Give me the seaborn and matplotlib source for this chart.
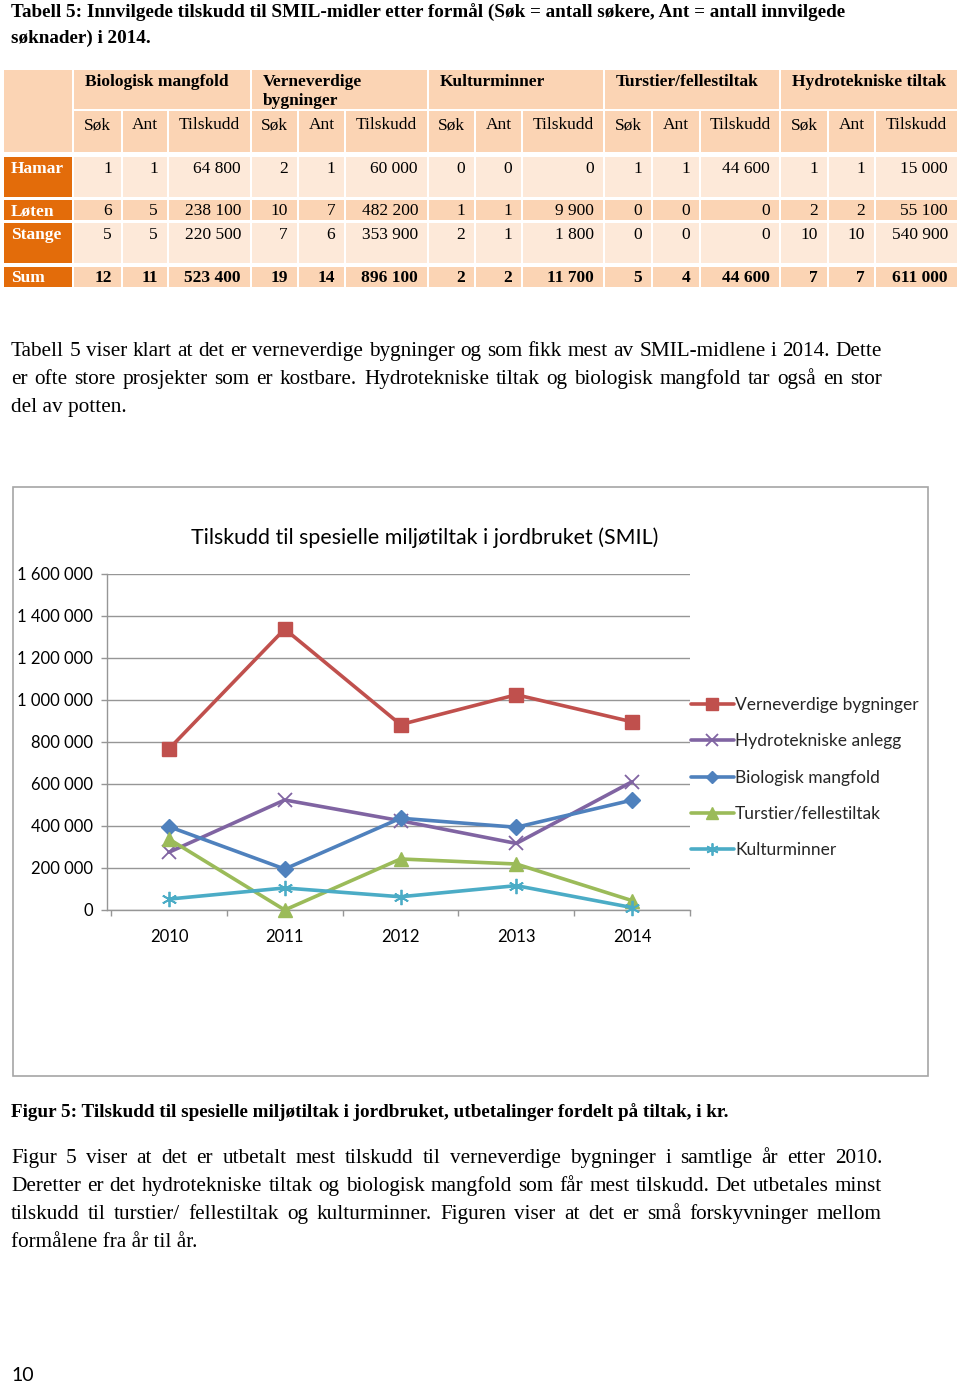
import numpy as np
import pandas as pd
import matplotlib
matplotlib.use("Agg")
import matplotlib.pyplot as plt
import seaborn as sns
from matplotlib.patches import Rectangle
from matplotlib.lines import Line2D

# ---------------- data ----------------
years = [2010, 2011, 2012, 2013, 2014]
series_names = ["Verneverdige bygninger", "Hydrotekniske anlegg", "Biologisk mangfold",
                "Turstier/fellestiltak", "Kulturminner"]
verneverdige = [767000, 1338000, 883000, 1025000, 896100]
hydrotekniske = [275000, 524000, 425000, 317000, 611000]
biologisk = [397000, 195000, 437000, 394000, 523400]
turstier = [338000, 0, 243000, 219000, 44600]
kulturminner = [52000, 105000, 63000, 116000, 11700]
y_ticks = [0, 200000, 400000, 600000, 800000, 1000000, 1200000, 1400000, 1600000]
chart_title = "Tilskudd til spesielle miljøtiltak i jordbruket (SMIL)"

group_names = ["Biologisk mangfold", "Verneverdige\nbygninger", "Kulturminner",
               "Turstier/fellestiltak", "Hydrotekniske tiltak"]
sub_headers = ["Søk", "Ant", "Tilskudd"]
row_labels = ["Hamar", "Løten", "Stange", "Sum"]
hamar = [1, 1, 64800, 2, 1, 60000, 0, 0, 0, 1, 1, 44600, 1, 1, 15000]
loten = [6, 5, 238100, 10, 7, 482200, 1, 1, 9900, 0, 0, 0, 2, 2, 55100]
stange = [5, 5, 220500, 7, 6, 353900, 2, 1, 1800, 0, 0, 0, 10, 10, 540900]
sums = [12, 11, 523400, 19, 14, 896100, 2, 2, 11700, 5, 4, 44600, 7, 7, 611000]

table_caption = ["Tabell 5: Innvilgede tilskudd til SMIL-midler etter formål (Søk = antall søkere, Ant = antall innvilgede",
                 "søknader) i 2014."]
para1 = ["Tabell 5 viser klart at det er verneverdige bygninger og som fikk mest av SMIL-midlene i 2014. Dette",
         "er ofte store prosjekter som er kostbare. Hydrotekniske tiltak og biologisk mangfold tar også en stor",
         "del av potten."]
fig_caption = "Figur 5: Tilskudd til spesielle miljøtiltak i jordbruket, utbetalinger fordelt på tiltak, i kr."
para2 = ["Figur 5 viser at det er utbetalt mest tilskudd til verneverdige bygninger i samtlige år etter 2010.",
         "Deretter er det hydrotekniske tiltak og biologisk mangfold som får mest tilskudd. Det utbetales minst",
         "tilskudd til turstier/ fellestiltak og kulturminner. Figuren viser at det er små forskyvninger mellom",
         "formålene fra år til år."]
page_number = "10"

# ---------------- setup ----------------
W, H = 960, 1383
sns.set_theme(style="white")
plt.rcParams["font.family"] = ["DejaVu Sans"]
SERIF = ["Liberation Serif", "DejaVu Serif"]
SANS = ["Lato", "DejaVu Sans"]

fig = plt.figure(figsize=(W / 100, H / 100), dpi=100)
page = fig.add_axes([0, 0, 1, 1])
page.set_xlim(0, W)
page.set_ylim(H, 0)
page.axis("off")
renderer = fig.canvas.get_renderer()


def fmt(v):
    return f"{v:,}".replace(",", " ")


def draw_lines(lines, y0, step, x0, x1, size, weight="normal", justify=True):
    for i, line in enumerate(lines):
        y = y0 + i * step
        last = i == len(lines) - 1
        if last or not justify:
            page.text(x0, y, line, ha="left", va="baseline", fontsize=size,
                      fontweight=weight, family=SERIF, color="black")
            continue
        words = line.split(" ")
        objs = [page.text(0, y, w, ha="left", va="baseline", fontsize=size,
                          fontweight=weight, family=SERIF, color="black") for w in words]
        widths = [o.get_window_extent(renderer).width for o in objs]
        gap = (x1 - x0 - sum(widths)) / (len(words) - 1)
        x = x0
        for o, wd in zip(objs, widths):
            o.set_x(x)
            x += wd + gap


# ---------------- captions & paragraphs ----------------
draw_lines(table_caption, 18, 25, 11, 852, 13.8, weight="bold", justify=False)
draw_lines(para1, 356, 28, 11, 882, 15.3)
draw_lines([fig_caption], 1117, 28, 11, 733, 13.8, weight="bold", justify=False)
draw_lines(para2, 1163, 28, 11, 882, 15.3)
page.text(11, 1381, page_number, ha="left", va="baseline", fontsize=14, family=SANS, color="black")

# ---------------- table ----------------
DARK = "#E36C0A"
MED = "#FBD4B4"
LIGHT = "#FDE9D9"
col_edges = [3, 73, 122, 168, 251, 298, 345, 428, 475, 522, 604, 652, 700, 780, 828, 875, 958]
hdr_top, hdr_mid, hdr_bot = 69, 110, 153
row_edges = [(156, 198), (199, 221), (222, 264), (266, 288)]
row_text_y = [169, 211, 235, 278]
row_fill = [LIGHT, MED, LIGHT, MED]
TS = 12.5


def cell(x0, y0, x1, y1, color):
    page.add_patch(Rectangle((x0 + 1, y0 + 1), x1 - x0 - 2, y1 - y0 - 2,
                             facecolor=color, edgecolor="none", zorder=1))


# header
cell(col_edges[0], hdr_top, col_edges[1], hdr_bot, MED)
for g, name in enumerate(group_names):
    gx0 = col_edges[1 + 3 * g]
    gx1 = col_edges[4 + 3 * g]
    cell(gx0, hdr_top, gx1, hdr_mid, MED)
    for li, part in enumerate(name.split("\n")):
        page.text(gx0 + 12, 82 + 19 * li, part, ha="left", va="center", fontsize=TS,
                  fontweight="bold", family=SERIF, color="black", zorder=3)
    for s, sub in enumerate(sub_headers):
        sx0 = col_edges[1 + 3 * g + s]
        sx1 = col_edges[2 + 3 * g + s]
        cell(sx0, hdr_mid, sx1, hdr_bot, MED)
        page.text((sx0 + sx1) / 2, 125, sub, ha="center", va="center", fontsize=TS,
                  family=SERIF, color="black", zorder=3)

# body
for r, (label, values) in enumerate(zip(row_labels, [hamar, loten, stange, sums])):
    y0, y1 = row_edges[r]
    bold = label == "Sum"
    cell(col_edges[0], y0, col_edges[1], y1, DARK)
    page.text(11, row_text_y[r], label, ha="left", va="center", fontsize=TS,
              fontweight="bold", family=SERIF, color="white", zorder=3)
    for c, v in enumerate(values):
        cx0 = col_edges[1 + c]
        cx1 = col_edges[2 + c]
        cell(cx0, y0, cx1, y1, row_fill[r])
        page.text(cx1 - 10, row_text_y[r], fmt(v), ha="right", va="center", fontsize=TS,
                  fontweight="bold" if bold else "normal", family=SERIF, color="black", zorder=3)

# ---------------- chart ----------------
page.add_patch(Rectangle((13, 487), 915, 589, facecolor="white", edgecolor="#A6A6A6",
                         linewidth=1.2, zorder=0))
page.text(425, 538, chart_title, ha="center", va="center", fontsize=15.4, family=SANS, color="black")

ax = fig.add_axes([107 / W, 1 - 910 / H, (690 - 107) / W, (910 - 574) / H])
ax.patch.set_alpha(0)

df = pd.DataFrame({
    "idx": list(range(len(years))) * 5,
    "value": verneverdige + hydrotekniske + biologisk + turstier + kulturminner,
    "series": np.repeat(series_names, len(years)),
})
colors = ["#C0504D", "#8064A2", "#4F81BD", "#9BBB59", "#4BACC6"]
markers = ["s", "x", "D", "^", (6, 2, 0)]
msizes = [10.5, 10, 8, 10, 11]
mews = [1, 1.3, 1, 1, 1.3]

handles = []
for name, col, mk, ms, mew in zip(series_names, colors, markers, msizes, mews):
    sub = df[df["series"] == name]
    sns.lineplot(data=sub, x="idx", y="value", ax=ax, color=col, marker=mk, markersize=ms,
                 markeredgecolor=col, markerfacecolor=col, markeredgewidth=mew,
                 linewidth=2.6, errorbar=None, legend=False, clip_on=False, zorder=3)
    handles.append(Line2D([], [], color=col, marker=mk, markersize=ms * 0.8,
                          markeredgecolor=col, markerfacecolor=col, markeredgewidth=mew,
                          linewidth=2.6))

ax.set_xlim(-0.535, len(years) - 0.5)
ax.set_ylim(0, 1600000)
ax.set_yticks(y_ticks)
ax.set_yticklabels([fmt(v) for v in y_ticks], fontsize=12, family=SANS)
ax.set_xticks(range(len(years)))
ax.set_xticklabels([str(y) for y in years], fontsize=12, family=SANS)
ax.set_xticks(np.arange(-0.5, len(years), 1.0), minor=True)
ax.set_xlabel("")
ax.set_ylabel("")
GRID = "#969696"
ax.grid(axis="y", color=GRID, linewidth=1.0)
ax.grid(axis="x", visible=False)
for s in ["top", "right"]:
    ax.spines[s].set_visible(False)
for s in ["left", "bottom"]:
    ax.spines[s].set_color(GRID)
    ax.spines[s].set_linewidth(1.0)
ax.tick_params(axis="y", which="major", left=True, length=4, width=1, color=GRID, pad=6,
               labelcolor="black")
ax.tick_params(axis="x", which="major", bottom=True, length=0, pad=13.5, labelcolor="black")
ax.tick_params(axis="x", which="minor", bottom=True, length=4.5, width=1, color=GRID)

leg = ax.legend(handles, series_names, loc="upper left",
                bbox_to_anchor=(691 / W, 1 - 697 / H), bbox_transform=fig.transFigure,
                frameon=False, prop={"family": SANS, "size": 12.5},
                handlelength=2.45, handletextpad=0.08, labelspacing=1.17,
                borderpad=0, borderaxespad=0)

fig.savefig("out.png", dpi=100)
